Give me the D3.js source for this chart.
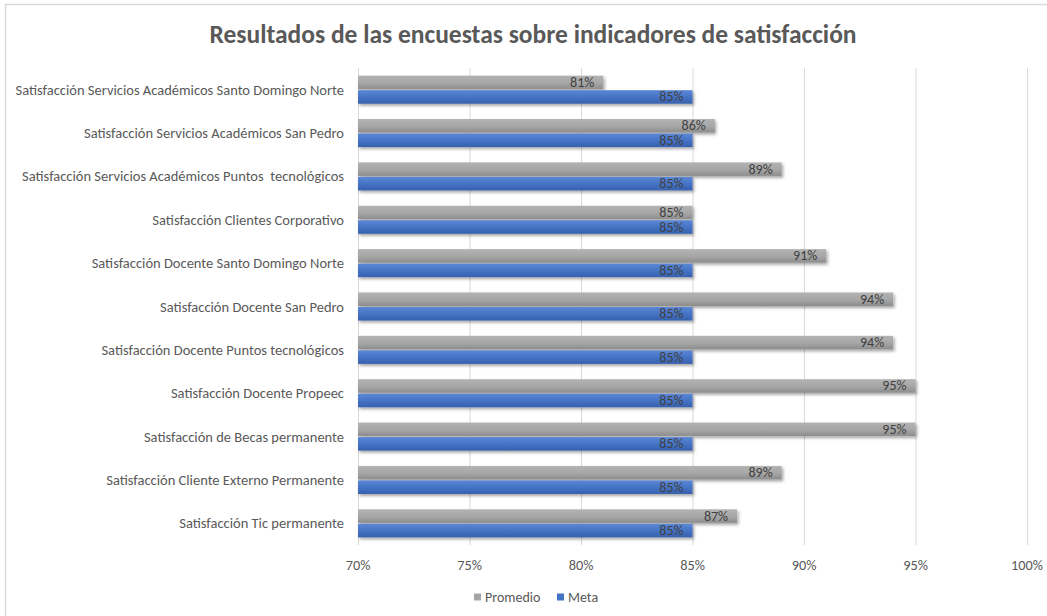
<!DOCTYPE html>
<html>
<head>
<meta charset="utf-8">
<script src="https://cdn.jsdelivr.net/npm/d3@7"></script>
<style>
  body { margin: 0; background: #fff; }
  svg { font-family: Carlito, "Liberation Sans Narrow", "Open Sans", sans-serif; }
</style>
</head>
<body>
<svg id="svg"></svg>
<script>
const categories = [
  'Satisfacción Servicios Académicos Santo Domingo Norte',
  'Satisfacción Servicios Académicos San Pedro',
  'Satisfacción Servicios Académicos Puntos  tecnológicos',
  'Satisfacción Clientes Corporativo',
  'Satisfacción Docente Santo Domingo Norte',
  'Satisfacción Docente San Pedro',
  'Satisfacción Docente Puntos tecnológicos',
  'Satisfacción Docente Propeec',
  'Satisfacción de Becas permanente',
  'Satisfacción Cliente Externo Permanente',
  'Satisfacción Tic permanente'
];
const promedio = [81, 86, 89, 85, 91, 94, 94, 95, 95, 89, 87];
const meta = [85, 85, 85, 85, 85, 85, 85, 85, 85, 85, 85];
const ticks = [70, 75, 80, 85, 90, 95, 100];
const series = ['Promedio', 'Meta'];

const W = 1047, H = 616;
const mLeft = 358, mRight = 1027, mTop = 68, mBottom = 545;

const svg = d3.select('#svg').attr('width', W).attr('height', H);
const defs = svg.append('defs');

const grads = [
  {id: 'g-prom', stops: ['#b3b3b3', '#a6a6a6', '#8c8c8c']},
  {id: 'g-meta', stops: ['#5b87d6', '#4472c4', '#3760ad']}
];
grads.forEach(g => {
  const lg = defs.append('linearGradient').attr('id', g.id)
    .attr('x1', 0).attr('y1', 0).attr('x2', 0).attr('y2', 1);
  lg.append('stop').attr('offset', '0%').attr('stop-color', g.stops[0]);
  lg.append('stop').attr('offset', '55%').attr('stop-color', g.stops[1]);
  lg.append('stop').attr('offset', '100%').attr('stop-color', g.stops[2]);
});
defs.append('filter').attr('id', 'shadow')
  .attr('x', '-5%').attr('y', '-30%').attr('width', '110%').attr('height', '180%')
  .append('feDropShadow')
  .attr('dx', 1.5).attr('dy', 2).attr('stdDeviation', 1.5)
  .attr('flood-color', '#000').attr('flood-opacity', 0.35);

// chart border (image is cropped right/bottom)
svg.append('path')
  .attr('d', `M5.5,${H} V4.5 H${W}`)
  .attr('fill', 'none').attr('stroke', '#d9d9d9').attr('stroke-width', 1.5);

svg.append('text')
  .attr('x', 533).attr('y', 43)
  .attr('text-anchor', 'middle')
  .attr('fill', '#595959')
  .style('font-size', '25.5px').style('font-weight', '600')
  .text('Resultados de las encuestas sobre indicadores de satisfacción');

const x = d3.scaleLinear().domain([70, 100]).range([mLeft, mRight]);
const y = d3.scaleBand().domain(categories).range([mTop, mBottom]).paddingInner(0.33).paddingOuter(0.165);
const ys = d3.scaleBand().domain(series).range([0, y.bandwidth()]);

// gridlines
svg.append('g').selectAll('line').data(ticks).enter().append('line')
  .attr('x1', d => x(d) + 0.5).attr('x2', d => x(d) + 0.5)
  .attr('y1', mTop).attr('y2', mBottom)
  .attr('stroke', '#d9d9d9').attr('stroke-width', 1);

// x tick labels
svg.append('g').selectAll('text').data(ticks).enter().append('text')
  .attr('x', d => x(d)).attr('y', 570)
  .attr('text-anchor', 'middle')
  .attr('fill', '#595959').style('font-size', '14.3px')
  .text(d => d + '%');

// category labels
svg.append('g').selectAll('text').data(categories).enter().append('text')
  .attr('x', 344).attr('y', d => y(d) + y.bandwidth() / 2 + 5)
  .attr('text-anchor', 'end')
  .attr('fill', '#595959').style('font-size', '14.5px')
  .style('white-space', 'pre')
  .text(d => d);

const rows = categories.map((c, i) => ({c, vals: [
  {s: 'Promedio', v: promedio[i], fill: 'url(#g-prom)'},
  {s: 'Meta', v: meta[i], fill: 'url(#g-meta)'}
]}));

const grp = svg.append('g').selectAll('g').data(rows).enter().append('g')
  .attr('transform', d => `translate(0,${y(d.c)})`);

grp.selectAll('rect').data(d => d.vals).enter().append('rect')
  .attr('x', x(70))
  .attr('y', d => ys(d.s) + 0.5)
  .attr('width', d => x(d.v) - x(70))
  .attr('height', ys.bandwidth() - 1)
  .attr('fill', d => d.fill)
  .attr('filter', 'url(#shadow)');

grp.selectAll('text').data(d => d.vals).enter().append('text')
  .attr('x', d => x(d.v) - 9)
  .attr('y', d => ys(d.s) + ys.bandwidth() / 2 + 4.5)
  .attr('text-anchor', 'end')
  .attr('fill', '#404040').style('font-size', '14px')
  .text(d => d.v + '%');

// legend
const legend = svg.append('g').attr('transform', 'translate(474,597)');
const lx = [0, 83];
const lfill = ['#a5a5a5', '#4472c4'];
series.forEach((s, i) => {
  legend.append('rect').attr('x', lx[i]).attr('y', -3.5).attr('width', 7).attr('height', 7).attr('fill', lfill[i]);
  legend.append('text').attr('x', lx[i] + 11).attr('y', 5)
    .attr('fill', '#595959').style('font-size', '14px').text(s);
});
</script>
</body>
</html>
